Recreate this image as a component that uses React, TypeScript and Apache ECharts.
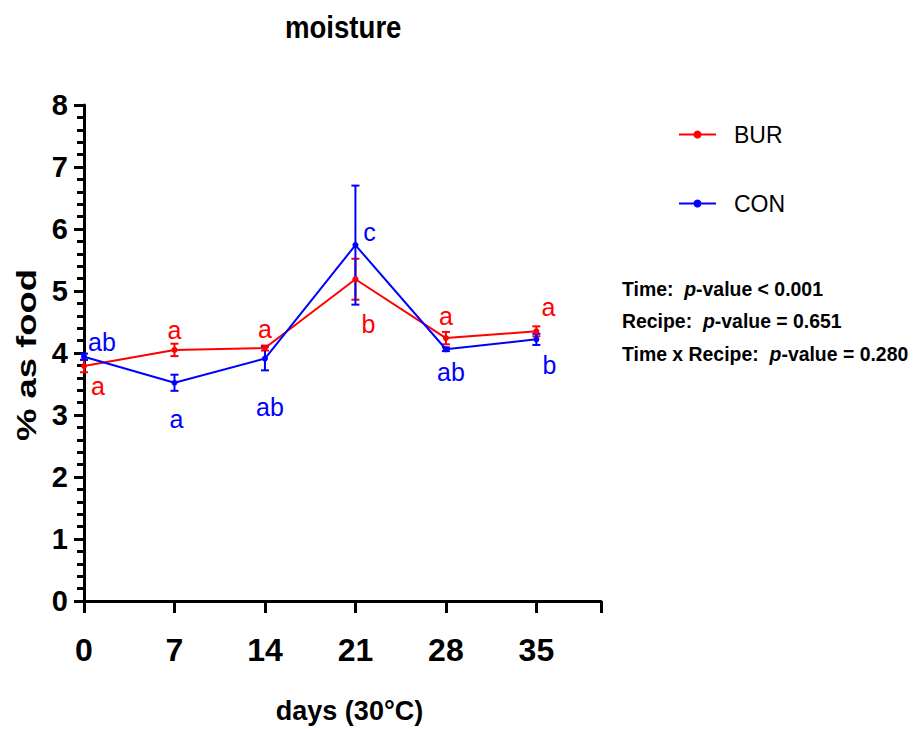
import React, { useEffect, useRef } from "react";
import * as echarts from "echarts";

const days = [0, 7, 14, 21, 28, 35];
const xTickLabels = ["0", "7", "14", "21", "28", "35"];
const burMean = [3.79, 4.05, 4.08, 5.19, 4.24, 4.35];
const burErr = [0.1, 0.1, 0.04, 0.33, 0.1, 0.08];
const conMean = [3.94, 3.52, 3.91, 5.74, 4.06, 4.22];
const conErr = [0.05, 0.13, 0.19, 0.96, 0.03, 0.09];
const burLetters = ["a", "a", "a", "b", "a", "a"];
const conLetters = ["ab", "a", "ab", "c", "ab", "b"];
// pixel offsets of the significance letters from their points
const burLetterOffset = [[14, 20], [0, -20], [0, -19], [13, 45], [0, -22], [12, -24]];
const conLetterOffset = [[18, -15], [2, 36], [5, 48], [14, -13], [5, 23], [13, 26]];

const RED = "#ff0000";
const BLUE = "#0000ff";
const FONT = "'Liberation Sans', Arial, sans-serif";

function errSeries(name: string, mean: number[], err: number[], color: string) {
  return {
    type: "custom",
    name: name + "-err",
    silent: true,
    z: 3,
    data: days.map((d, i) => [d, mean[i] - err[i], mean[i] + err[i]]),
    renderItem: (params: any, api: any) => {
      const lo = api.coord([api.value(0), api.value(1)]);
      const hi = api.coord([api.value(0), api.value(2)]);
      const w = 4;
      const st = { stroke: color, lineWidth: 2 };
      return {
        type: "group",
        children: [
          { type: "line", shape: { x1: lo[0], y1: lo[1], x2: hi[0], y2: hi[1] }, style: st },
          { type: "line", shape: { x1: lo[0] - w, y1: lo[1], x2: lo[0] + w, y2: lo[1] }, style: st },
          { type: "line", shape: { x1: hi[0] - w, y1: hi[1], x2: hi[0] + w, y2: hi[1] }, style: st },
        ],
      };
    },
  };
}

function letterSeries(name: string, mean: number[], letters: string[], offs: number[][], color: string) {
  return {
    type: "custom",
    name: name + "-letters",
    silent: true,
    z: 5,
    data: days.map((d, i) => [d, mean[i], i]),
    renderItem: (params: any, api: any) => {
      const p = api.coord([api.value(0), api.value(1)]);
      const i = api.value(2);
      return {
        type: "text",
        x: p[0] + offs[i][0],
        y: p[1] + offs[i][1],
        style: {
          text: letters[i],
          fill: color,
          font: `25px ${FONT}`,
          align: "center",
          verticalAlign: "middle",
        },
      };
    },
  };
}

export default function App() {
  const ref = useRef<HTMLDivElement>(null);
  useEffect(() => {
    document.body.style.margin = "0";
    const chart = echarts.init(ref.current!, null, { renderer: "svg" });
    const axisLine = { lineStyle: { color: "#000", width: 3 } };
    const option: any = {
      animation: false,
      backgroundColor: "#fff",
      grid: { left: 84, right: 312, top: 105, bottom: 127 },
      legend: {
        data: ["BUR", "CON"],
        orient: "vertical",
        left: 673,
        top: 118,
        itemGap: 46,
        itemWidth: 37,
        itemHeight: 10,
        textStyle: { fontFamily: FONT, fontSize: 23, color: "#000", padding: [0, 0, 0, 13] },
      },
      xAxis: {
        type: "value",
        min: 0,
        max: 40,
        interval: 7,
        axisLine,
        axisTick: { show: true, length: 12, lineStyle: { color: "#000", width: 3 } },
        splitLine: { show: false },
        axisLabel: {
          margin: 33,
          color: "#000",
          fontFamily: FONT,
          fontWeight: "bold",
          fontSize: 32,
          formatter: (v: number) => {
            const i = days.indexOf(v);
            return i >= 0 ? xTickLabels[i] : "";
          },
        },
        name: "days (30°C)",
        nameLocation: "middle",
        nameGap: 96,
        nameTextStyle: { fontFamily: FONT, fontWeight: "bold", fontSize: 27, color: "#000", padding: [0, 0, 0, 14] },
      },
      yAxis: {
        type: "value",
        min: 0,
        max: 8,
        interval: 1,
        axisLine: { show: true, ...axisLine },
        axisTick: { show: true, length: 10, lineStyle: { color: "#000", width: 3 } },
        minorTick: { show: true, splitNumber: 5, length: 7, lineStyle: { color: "#000", width: 3 } },
        splitLine: { show: false },
        minorSplitLine: { show: false },
        axisLabel: {
          margin: 16,
          color: "#000",
          fontFamily: FONT,
          fontWeight: "bold",
          fontSize: 29,
        },
      },
      graphic: [
        {
          type: "text",
          x: 285,
          y: 27,
          scaleX: 0.89,
          style: { text: "moisture", font: `bold 31px ${FONT}`, fill: "#000", verticalAlign: "middle" },
        },
        {
          type: "text",
          x: 27,
          y: 355,
          rotation: Math.PI / 2,
          scaleX: 1.3,
          style: {
            text: "% as food",
            font: `bold 28px ${FONT}`,
            fill: "#000",
            align: "center",
            verticalAlign: "middle",
          },
        },
        {
          type: "text",
          x: 622,
          y: 272,
          scaleX: 0.925,
          style: {
            text: "{b|Time:  }{i|p}{b|-value < 0.001}\n{b|Recipe:  }{i|p}{b|-value = 0.651}\n{b|Time x Recipe:  }{i|p}{b|-value = 0.280}",
            verticalAlign: "top",
            rich: {
              b: { font: `bold 21px ${FONT}`, fill: "#000", lineHeight: 32.5 },
              i: { font: `italic bold 21px ${FONT}`, fill: "#000", lineHeight: 32.5 },
            },
          },
        },
      ],
      series: [
        errSeries("BUR", burMean, burErr, RED),
        errSeries("CON", conMean, conErr, BLUE),
        {
          type: "line",
          name: "BUR",
          data: days.map((d, i) => [d, burMean[i]]),
          color: RED,
          lineStyle: { width: 2, color: RED },
          itemStyle: { color: RED },
          symbol: "circle",
          symbolSize: 6,
          z: 4,
        },
        {
          type: "line",
          name: "CON",
          data: days.map((d, i) => [d, conMean[i]]),
          color: BLUE,
          lineStyle: { width: 2, color: BLUE },
          itemStyle: { color: BLUE },
          symbol: "circle",
          symbolSize: 6,
          z: 4,
        },
        letterSeries("BUR", burMean, burLetters, burLetterOffset, RED),
        letterSeries("CON", conMean, conLetters, conLetterOffset, BLUE),
      ],
    };
    chart.setOption(option);
    return () => chart.dispose();
  }, []);
  return <div ref={ref} style={{ width: 913, height: 729 }} />;
}
